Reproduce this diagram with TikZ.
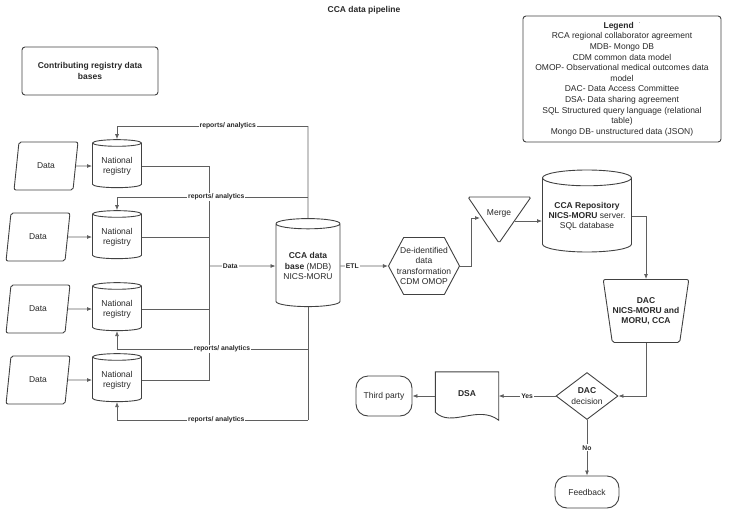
\documentclass[tikz,border=0pt]{standalone}
\usepackage{fontspec}
\setmainfont{Liberation Sans}
\usetikzlibrary{shapes.geometric,shapes.symbols,arrows.meta}
\definecolor{linecol}{RGB}{95,95,95}
\definecolor{boxcol}{RGB}{65,65,65}
\definecolor{txtcol}{RGB}{40,40,40}

\begin{document}
\begin{tikzpicture}[x=1pt,y=-1pt]
\tikzstyle{box} = [draw=boxcol, line width=0.9pt, text=txtcol, font=\fontsize{8.5}{10.2}\selectfont, align=center, inner sep=1pt]
\tikzstyle{outline} = [draw=boxcol, line width=0.9pt]
\tikzstyle{datanode} = [box, trapezium, trapezium left angle=77, trapezium right angle=103, trapezium stretches, minimum width=64, minimum height=48, rounded corners=2]
\tikzstyle{dbnode} = [box, cylinder, shape border rotate=90, aspect=0.2]
\tikzstyle{conn} = [draw=linecol, line width=0.8pt, -{Latex[length=5pt,width=4pt]}]
\tikzstyle{line} = [draw=linecol, line width=0.8pt]
\tikzstyle{lab} = [fill=white, inner sep=1pt, text=txtcol, font=\fontsize{6.8}{8}\selectfont\bfseries]

\useasboundingbox (0,0) rectangle (729,515);

\node[text=txtcol, font=\fontsize{8.5}{10}\selectfont\bfseries] (title) at (364,10) {CCA data pipeline};

\node[box, rounded corners=3, minimum width=136, minimum height=48] (contrib) at (90,71) {\textbf{Contributing registry data}\\\textbf{bases}};

\node[box, rounded corners=3, minimum width=198, minimum height=126, font=\fontsize{8.5}{10.6}\selectfont] (legend) at (622,79) {\textbf{Legend}\hspace{5pt}\raisebox{2pt}{\tiny\textasciigrave}\\RCA regional collaborator agreement\\MDB- Mongo DB\\CDM common data model\\OMOP- Observational medical outcomes data\\model\\DAC- Data Access Committee\\DSA- Data sharing agreement\\SQL Structured query language (relational\\table)\\Mongo DB- unstructured data (JSON)};

\foreach \i/\y/\dx in {1/166/46, 2/237/38, 3/309/38, 4/380/38} {
  \node[datanode] (d\i) at (\dx,\y) {Data};
  \node[dbnode, minimum width=49, minimum height=48] (r\i) at (117,\y) {National\\registry};
  \draw[conn] (d\i) -- (r\i);
}

\node[dbnode, minimum width=64, minimum height=88] (cca) at (308,266) {\textbf{CCA data}\\\textbf{base} (MDB)\\NICS-MORU};

\coordinate (bus) at (209,266);
\foreach \i in {1,...,4}
  \draw[line] (r\i.east) -| (bus);
\draw[conn] (bus) -- node[lab, pos=.32] {Data} (cca.west);

\coordinate (rep1) at (308,126);
\coordinate (rep2) at (308,197);
\coordinate (rep3) at (308,349);
\coordinate (rep4) at (308,420);
\draw[line] (cca.north) -- (rep1);
\draw[line] (cca.south) -- (rep4);
\draw[conn] (rep1) -| node[lab, pos=.21] {reports/ analytics} (r1.north);
\draw[conn] (rep2) -| node[lab, pos=.24] {reports/ analytics} (r2.north);
\draw[conn] (rep3) -| node[lab, pos=.225] {reports/ analytics} (r3.south);
\draw[conn] (rep4) -| node[lab, pos=.24] {reports/ analytics} (r4.south);

\node[box, signal, signal to=west and east, signal pointer angle=124, inner xsep=-14, minimum width=71, minimum height=57] (hex) at (424,266) {De-identified\\data\\transformation\\CDM OMOP};
\draw[conn] (cca.east) -- node[lab, pos=.25] {ETL} (hex.west);

\node[text=txtcol, font=\fontsize{8.5}{10}\selectfont] (merge) at (499,213) {Merge};
\draw[outline, rounded corners=1.5] (468,197) -- (531,197) -- (499,243) -- cycle;
\coordinate (mgin) at (480,218);
\coordinate (mgout) at (515,221);
\draw[conn] (hex.east) -- ++(11,0) |- (mgin);

\node[dbnode, minimum width=89, minimum height=82] (repo) at (587,216) {\textbf{CCA Repository}\\\textbf{NICS-MORU} server.\\SQL database};
\draw[conn] (mgout) -- (mgout -| repo.west);

\node[box, trapezium, trapezium left angle=103, trapezium right angle=103, trapezium stretches, inner xsep=-8, minimum width=86, minimum height=63, rounded corners=2] (dac) at (646,311) {\textbf{DAC}\\\textbf{NICS-MORU and}\\\textbf{MORU, CCA}};
\draw[conn] (repo.east) -| (dac.north);

\node[box, diamond, aspect=1.3, inner sep=0pt, minimum width=62, minimum height=47] (dec) at (587,396) {\textbf{DAC}\\decision};
\draw[conn] (dac.south) |- (dec.east);

\node[minimum width=63, minimum height=48, text=txtcol, font=\fontsize{8.5}{10}\selectfont] (dsa) at (467,396) {\raisebox{5pt}{\textbf{DSA}}};
\draw[outline] ([yshift=8]dsa.south west) -- (dsa.north west) -- (dsa.north east) -- (dsa.south east) .. controls +(-21,-16) and +(16,16) .. ([yshift=8]dsa.south west) -- cycle;
\draw[conn] (dec.west) -- node[lab] {Yes} (dsa.east);

\node[box, rounded corners=12, minimum width=56, minimum height=40] (third) at (384,396) {Third party};
\draw[conn] (dsa.west) -- (third.east);

\node[box, rounded corners=12, minimum width=64, minimum height=32] (fb) at (587,492) {Feedback};
\draw[conn] (dec.south) -- node[lab] {No} (fb.north);

\end{tikzpicture}
\end{document}
